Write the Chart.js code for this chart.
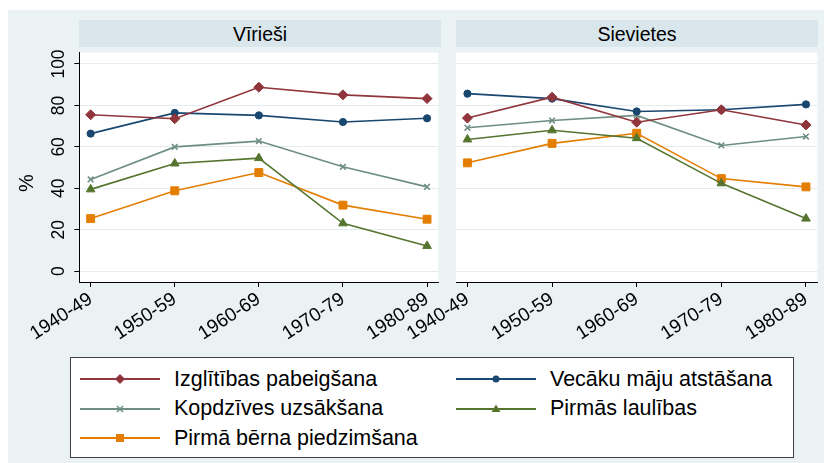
<!DOCTYPE html>
<html>
<head>
<meta charset="utf-8">
<script src="https://cdn.jsdelivr.net/npm/chart.js@4"></script>
<style>
  body { margin: 0; width: 824px; height: 463px; position: relative; overflow: hidden; background: #fff;
         font-family: "Liberation Sans", Arial, sans-serif; }
  #bg { position: absolute; left: 8px; top: 10px; width: 816px; height: 453px; background: #EAF2F3; }
  .strip { position: absolute; top: 20px; height: 27px; width: 362px; background: #D9E6EB;
           text-align: center; line-height: 28px; font-size: 19.5px; color: #000; }
  canvas { position: absolute; }
  #legend { position: absolute; left: 70px; top: 357px; width: 722px; height: 99px; background: #fff;
            border: 1px solid #404040; }
  .item { position: absolute; height: 26px; display: flex; align-items: center; font-size: 21.5px; color: #000; }
  .item svg { margin-right: 14px; }
</style>
</head>
<body>
<div id="bg"></div>
<div class="strip" style="left:79px">Vīrieši</div>
<div class="strip" style="left:456px">Sievietes</div>
<canvas id="men" width="445" height="294" style="left:0;top:46px"></canvas>
<canvas id="women" width="444" height="294" style="left:380px;top:46px"></canvas>
<div id="legend"></div>

<script>
// Data
const periods = ['1940-49', '1950-59', '1960-69', '1970-79', '1980-89'];
const yTicks = [0, 20, 40, 60, 80, 100];
const seriesNames = ['Izglītības pabeigšana', 'Vecāku māju atstāšana', 'Kopdzīves uzsākšana',
                     'Pirmās laulības', 'Pirmā bērna piedzimšana'];

const menEducation  = [75.5, 73.6, 88.8, 85.1, 83.3];
const menLeaveHome  = [66.4, 76.4, 75.2, 72.0, 73.8];
const menCohabit    = [44.3, 60.0, 62.8, 50.4, 40.7];
const menMarriage   = [39.5, 52.0, 54.6, 23.1, 12.2];
const menFirstChild = [25.4, 38.8, 47.6, 31.9, 25.1];

const womenEducation  = [73.9, 84.0, 71.9, 77.9, 70.6];
const womenLeaveHome  = [85.7, 83.3, 77.1, 77.9, 80.5];
const womenCohabit    = [69.2, 72.7, 75.2, 60.7, 65.0];
const womenMarriage   = [63.6, 68.0, 64.2, 42.4, 25.4];
const womenFirstChild = [52.3, 61.7, 66.6, 44.7, 40.7];

// Styles (Stata s2color)
const colors  = ['#90353B', '#1A476F', '#6E8E84', '#55752F', '#E37E00'];
const markers = ['rectRot', 'circle', 'crossRot', 'triangle', 'rect'];
const radii   = [5, 3.6, 4, 5, 5.6];

const FONT = '"Liberation Sans", Arial, sans-serif';

// white plot region
const plotBg = {
  id: 'plotBg',
  beforeDraw(chart) {
    const { ctx, chartArea: a } = chart;
    ctx.save();
    ctx.fillStyle = '#fff';
    ctx.fillRect(a.left, a.top, a.right - a.left, a.bottom - a.top);
    ctx.restore();
  }
};

// vertical y tick labels + axis title, Stata style
const verticalYLabels = {
  id: 'verticalYLabels',
  afterDraw(chart) {
    const ctx = chart.ctx;
    const s = chart.scales.y;
    ctx.save();
    ctx.fillStyle = '#000';
    ctx.textAlign = 'center';
    ctx.textBaseline = 'middle';
    ctx.font = '17.5px ' + FONT;
    yTicks.forEach(v => {
      ctx.save();
      ctx.translate(59, s.getPixelForValue(v));
      ctx.rotate(-Math.PI / 2);
      ctx.fillText(String(v), 0, 0);
      ctx.restore();
    });
    ctx.font = '20px ' + FONT;
    ctx.translate(27, s.getPixelForValue(42.5));
    ctx.rotate(-Math.PI / 2);
    ctx.fillText('%', 0, 0);
    ctx.restore();
  }
};

function makeDatasets(values) {
  return values.map((vals, i) => ({
    label: seriesNames[i],
    data: vals.map((v, j) => ({ x: j, y: v })),
    borderColor: colors[i],
    backgroundColor: colors[i],
    borderWidth: 1.6,
    pointStyle: markers[i],
    pointRadius: radii[i],
    pointBorderWidth: markers[i] === 'crossRot' ? 1.6 : 1,
    pointBorderColor: colors[i],
    pointBackgroundColor: colors[i],
    tension: 0
  }));
}

function makeChart(id, values, yAxisWidth, padRight, showY) {
  new Chart(document.getElementById(id), {
    type: 'line',
    data: { datasets: makeDatasets(values) },
    options: {
      responsive: false,
      animation: false,
      events: [],
      layout: { padding: { top: 1, right: padRight, left: 0, bottom: 0 } },
      plugins: { legend: { display: false }, tooltip: { enabled: false } },
      scales: {
        x: {
          type: 'linear',
          min: -0.135,
          max: 4.135,
          afterBuildTicks: scale => { scale.ticks = periods.map((p, i) => ({ value: i })); },
          afterFit: scale => { scale.height = 58; },
          ticks: {
            callback: v => periods[v],
            autoSkip: false,
            minRotation: 33,
            maxRotation: 33,
            padding: 1,
            color: '#000',
            font: { family: FONT, size: 19 }
          },
          grid: { drawOnChartArea: false, drawTicks: true, tickLength: 5, tickColor: '#000' },
          border: { color: '#000', width: 1 }
        },
        y: {
          min: -5.2,
          max: 105.5,
          afterBuildTicks: scale => { scale.ticks = yTicks.map(v => ({ value: v })); },
          afterFit: scale => { scale.width = yAxisWidth; },
          ticks: { display: false },
          grid: {
            color: '#E3EDEF',
            lineWidth: 1,
            drawTicks: showY,
            tickLength: 5,
            tickColor: '#000'
          },
          border: { display: showY, color: '#000', width: 1 }
        }
      }
    },
    plugins: showY ? [plotBg, verticalYLabels] : [plotBg]
  });
}

makeChart('men', [menEducation, menLeaveHome, menCohabit, menMarriage, menFirstChild], 79.3, 4.3, true);
makeChart('women', [womenEducation, womenLeaveHome, womenCohabit, womenMarriage, womenFirstChild], 76, 5.7, false);

// Legend
function markerSvg(i) {
  const c = colors[i];
  let m = '';
  if (markers[i] === 'rectRot') m = `<polygon points="40,4 45,9 40,14 35,9" fill="${c}"/>`;
  if (markers[i] === 'circle') m = `<circle cx="40" cy="9" r="3.5" fill="${c}"/>`;
  if (markers[i] === 'crossRot') m = `<path d="M37,6 L43,12 M43,6 L37,12" stroke="${c}" stroke-width="1.6"/>`;
  if (markers[i] === 'triangle') m = `<polygon points="40,4.5 44.5,12 35.5,12" fill="${c}"/>`;
  if (markers[i] === 'rect') m = `<rect x="36" y="5" width="8" height="8" fill="${c}"/>`;
  return `<svg width="80" height="18"><line x1="0" y1="9" x2="80" y2="9" stroke="${c}" stroke-width="2"/>${m}</svg>`;
}

const legendSlots = [
  { col: 0, row: 0 }, { col: 1, row: 0 }, { col: 0, row: 1 }, { col: 1, row: 1 }, { col: 0, row: 2 }
];
const legend = document.getElementById('legend');
seriesNames.forEach((name, i) => {
  const slot = legendSlots[i];
  const div = document.createElement('div');
  div.className = 'item';
  div.style.left = (slot.col === 0 ? 9 : 385) + 'px';
  div.style.top = (8 + slot.row * 29.7) + 'px';
  div.innerHTML = markerSvg(i) + '<span>' + name + '</span>';
  legend.appendChild(div);
});
</script>
</body>
</html>
